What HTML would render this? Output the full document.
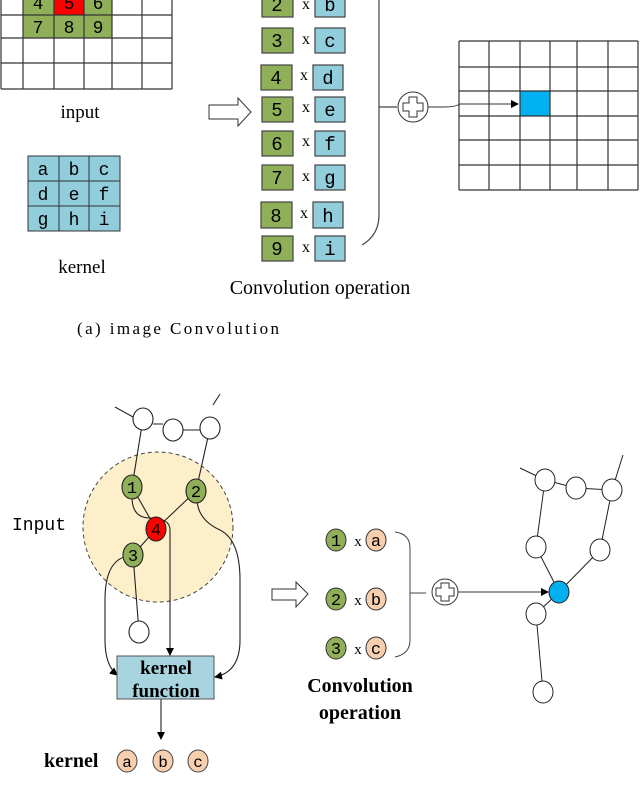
<!DOCTYPE html>
<html><head><style>body{margin:0;background:#fff}svg{display:block}</style></head><body>
<svg width="640" height="803" viewBox="0 0 640 803" xmlns="http://www.w3.org/2000/svg" font-family="Liberation Serif, serif">
<defs><marker id="ar" markerWidth="8" markerHeight="8" refX="7" refY="4" orient="auto" markerUnits="userSpaceOnUse"><path d="M0,0 L8,4 L0,8 z" fill="#000"/></marker></defs>
<rect x="23" y="-10" width="89" height="48" fill="#8fb058"/>
<rect x="54" y="-10" width="30" height="25" fill="#f00"/>
<g stroke="#333" stroke-width="1.2" fill="none">
<path d="M1,-10V89M23,-10V89M54,-10V89M84,-10V89M112,-10V89M142,-10V89M172,-10V89M1,15H172M1,38H172M1,63H172M1,89H172"/>
</g>
<g font-family="Liberation Mono, monospace" font-size="18" text-anchor="middle">
<text x="38" y="9">4</text><text x="69" y="9">5</text><text x="98" y="9">6</text>
<text x="38" y="33">7</text><text x="69" y="33">8</text><text x="98" y="33">9</text>
</g>
<text x="80" y="118" font-size="19" text-anchor="middle">input</text>
<rect x="28" y="156" width="92" height="75" fill="#92cddc" stroke="#333"/>
<path d="M59,156V231M89,156V231M28,181H120M28,206H120" stroke="#333"/>
<g font-family="Liberation Mono, monospace" font-size="18" text-anchor="middle">
<text x="43" y="175">a</text><text x="74" y="175">b</text><text x="104" y="175">c</text>
<text x="43" y="200">d</text><text x="74" y="200">e</text><text x="104" y="200">f</text>
<text x="43" y="225">g</text><text x="74" y="225">h</text><text x="104" y="225">i</text>
</g>
<text x="82" y="273" font-size="19" text-anchor="middle">kernel</text>
<path d="M209,105H238V98L251,112L238,126V119H209z" fill="#fff" stroke="#333"/>
<g stroke="#444" stroke-width="1.2">
<rect x="262" y="-8" width="31" height="25" fill="#8fb058"/><rect x="315" y="-8" width="30" height="25" fill="#92cddc"/>
<rect x="262" y="28" width="31" height="25" fill="#8fb058"/><rect x="315" y="28" width="30" height="25" fill="#92cddc"/>
<rect x="261" y="65" width="31" height="25" fill="#8fb058"/><rect x="313" y="65" width="30" height="25" fill="#92cddc"/>
<rect x="262" y="97" width="31" height="25" fill="#8fb058"/><rect x="315" y="97" width="30" height="25" fill="#92cddc"/>
<rect x="262" y="131" width="31" height="25" fill="#8fb058"/><rect x="315" y="131" width="30" height="25" fill="#92cddc"/>
<rect x="262" y="165" width="31" height="25" fill="#8fb058"/><rect x="315" y="165" width="30" height="25" fill="#92cddc"/>
<rect x="261" y="202" width="31" height="26" fill="#8fb058"/><rect x="313" y="202" width="30" height="26" fill="#92cddc"/>
<rect x="262" y="236" width="31" height="25" fill="#8fb058"/><rect x="315" y="236" width="30" height="25" fill="#92cddc"/>
</g>
<g font-family="Liberation Mono, monospace" font-size="19" text-anchor="middle">
<text x="277" y="11">2</text><text x="330" y="11">b</text>
<text x="277" y="47">3</text><text x="330" y="47">c</text>
<text x="276" y="84">4</text><text x="328" y="84">d</text>
<text x="277" y="116">5</text><text x="330" y="116">e</text>
<text x="277" y="150">6</text><text x="330" y="150">f</text>
<text x="277" y="184">7</text><text x="330" y="184">g</text>
<text x="276" y="222">8</text><text x="328" y="222">h</text>
<text x="277" y="255">9</text><text x="330" y="255">i</text>
</g>
<g font-size="16" text-anchor="middle">
<text x="306" y="9">x</text><text x="306" y="44">x</text><text x="304" y="80">x</text><text x="306" y="112">x</text><text x="306" y="146">x</text><text x="306" y="181">x</text><text x="304" y="218">x</text><text x="306" y="252">x</text>
</g>
<path d="M379,0V215Q379,235 362,245M379,107H397" stroke="#444" fill="none" stroke-width="1.2"/>
<circle cx="413" cy="107" r="15" fill="#fff" stroke="#333"/>
<path d="M409,97h8v6h6v8h-6v6h-8v-6h-6v-8h6z" fill="#fff" stroke="#333"/>
<path d="M428,107H445Q455,107 460,104H518" stroke="#333" fill="none" marker-end="url(#ar)"/>
<text x="320" y="294" font-size="20" text-anchor="middle">Convolution operation</text>
<rect x="520" y="91" width="30" height="25" fill="#00b0f0"/>
<path d="M459,41V190M489,41V190M520,41V190M550,41V190M577,41V190M608,41V190M638,41V190M459,41H638M459,67H638M459,91H638M459,116H638M459,140H638M459,165H638M459,190H638" stroke="#333" stroke-width="1.2"/>
<text x="77" y="334" font-size="17" textLength="202" lengthAdjust="spacing">(a) image Convolution</text>
<circle cx="158" cy="527" r="75" fill="#fdefc9" stroke="#444" stroke-dasharray="4,3"/>
<g stroke="#222" fill="none" stroke-width="1.1">
<path d="M115,407L133,417M213,405L220,394M143,419L132,487M210,428L196,491M132,487L156,529M196,491L156,529M156,529L133,555M133,555L139,632M153,424H163M183,430H200"/>
<path d="M132,497Q132,518 150,518Q170,518 170,530V655" marker-end="url(#ar)"/>
<path d="M128,556Q105,560 105,600V640Q105,665 117,675" marker-end="url(#ar)"/>
<path d="M197,500Q198,520 220,530Q240,540 240,580V640Q240,672 215,677" marker-end="url(#ar)"/>
<path d="M161,699V739" marker-end="url(#ar)"/>
</g>
<g stroke="#222" stroke-width="1.1">
<ellipse cx="143" cy="419" rx="10" ry="11" fill="#fff"/><ellipse cx="173" cy="430" rx="10" ry="11" fill="#fff"/><ellipse cx="210" cy="428" rx="10" ry="11" fill="#fff"/>
<ellipse cx="132" cy="487" rx="10" ry="12" fill="#8fb058"/><ellipse cx="196" cy="491" rx="10" ry="12" fill="#8fb058"/>
<ellipse cx="156" cy="529" rx="10" ry="12" fill="#f00"/><ellipse cx="133" cy="555" rx="10" ry="12" fill="#8fb058"/>
<ellipse cx="139" cy="632" rx="10" ry="11" fill="#fff"/>
</g>
<g font-family="Liberation Mono, monospace" font-size="17" text-anchor="middle">
<text x="132" y="493">1</text><text x="196" y="497">2</text><text x="156" y="535">4</text><text x="133" y="561">3</text>
</g>
<text x="12" y="530" font-family="Liberation Mono, monospace" font-size="18">Input</text>
<rect x="117" y="656" width="97" height="43" fill="#a8d4e0" stroke="#555"/>
<text x="166" y="674" font-size="19" font-weight="bold" text-anchor="middle">kernel</text>
<text x="166" y="697" font-size="19" font-weight="bold" text-anchor="middle">function</text>
<text x="44" y="767" font-size="20" font-weight="bold">kernel</text>
<g stroke="#444" fill="#f8cfae"><ellipse cx="127" cy="761" rx="10" ry="11"/><ellipse cx="163" cy="761" rx="10" ry="11"/><ellipse cx="198" cy="761" rx="10" ry="11"/></g>
<g font-family="Liberation Mono, monospace" font-size="16" text-anchor="middle"><text x="127" y="767">a</text><text x="163" y="767">b</text><text x="198" y="767">c</text></g>
<path d="M272,589H296V582L308,594L296,607V600H272z" fill="#fff" stroke="#333"/>
<g stroke="#333"><ellipse cx="336" cy="540" rx="10" ry="11" fill="#8fb058"/><ellipse cx="336" cy="599" rx="10" ry="11" fill="#8fb058"/><ellipse cx="336" cy="648" rx="10" ry="11" fill="#8fb058"/>
<ellipse cx="376" cy="540" rx="10" ry="11" fill="#f8cfae"/><ellipse cx="376" cy="599" rx="10" ry="11" fill="#f8cfae"/><ellipse cx="376" cy="648" rx="10" ry="11" fill="#f8cfae"/></g>
<g font-family="Liberation Mono, monospace" font-size="17" text-anchor="middle">
<text x="336" y="546">1</text><text x="336" y="605">2</text><text x="336" y="654">3</text>
<text x="376" y="546">a</text><text x="376" y="605">b</text><text x="376" y="654">c</text></g>
<g font-size="15" text-anchor="middle"><text x="358" y="546">x</text><text x="358" y="605">x</text><text x="358" y="654">x</text></g>
<path d="M395,532Q410,534 410,548V640Q410,654 395,657M410,593H426" stroke="#444" fill="none"/>
<circle cx="445" cy="592" r="13" fill="#fff" stroke="#333"/>
<path d="M441,583h8v5h5v8h-5v5h-8v-5h-5v-8h5z" fill="#fff" stroke="#333"/>
<path d="M458,592H548" stroke="#333" marker-end="url(#ar)"/>
<g stroke="#222" fill="none">
<path d="M520,468L545,480M612,490L623,455M545,480L576,488L612,490M545,480L536,547M612,490L600,550M536,547L559,592M600,550L559,592M559,592L536,614M536,614L543,692"/>
</g>
<g stroke="#222" fill="#fff">
<ellipse cx="545" cy="480" rx="10" ry="11"/><ellipse cx="576" cy="488" rx="10" ry="11"/><ellipse cx="612" cy="490" rx="10" ry="11"/>
<ellipse cx="536" cy="547" rx="10" ry="11"/><ellipse cx="600" cy="550" rx="10" ry="11"/>
<ellipse cx="559" cy="592" rx="10" ry="11" fill="#00b0f0"/>
<ellipse cx="536" cy="614" rx="10" ry="11"/><ellipse cx="543" cy="692" rx="10" ry="11"/>
</g>
<text x="360" y="692" font-size="20" font-weight="bold" text-anchor="middle">Convolution</text>
<text x="360" y="719" font-size="20" font-weight="bold" text-anchor="middle">operation</text>
</svg>
</body></html>
